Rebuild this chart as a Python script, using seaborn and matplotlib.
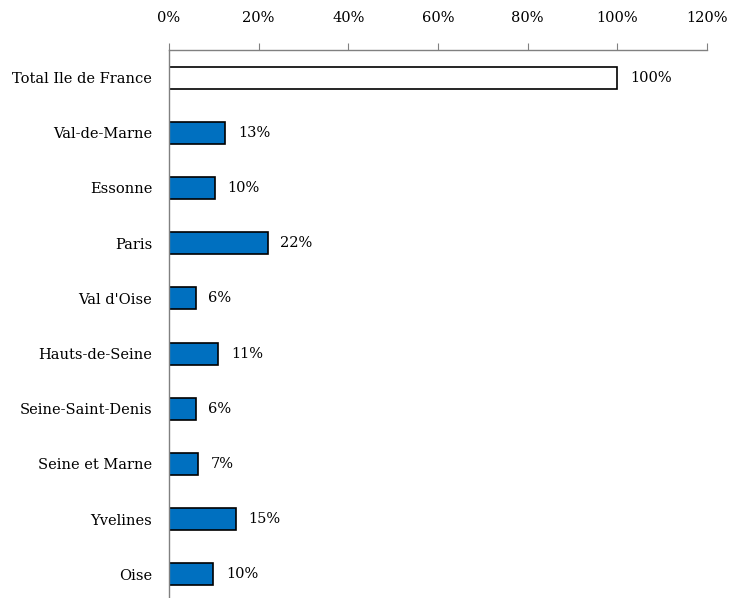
import numpy as np
import pandas as pd
import matplotlib
matplotlib.use("Agg")
import matplotlib.pyplot as plt
import seaborn as sns
from matplotlib.ticker import PercentFormatter, FixedLocator

# Data (share of each département)
regions = ["Total Ile de France", "Val-de-Marne", "Essonne", "Paris", "Val d'Oise",
           "Hauts-de-Seine", "Seine-Saint-Denis", "Seine et Marne", "Yvelines", "Oise"]
shares = [100, 12.6, 10.3, 22.0, 6.0, 11.0, 6.0, 6.5, 15.0, 9.9]
share_labels = ["100%", "13%", "10%", "22%", "6%", "11%", "6%", "7%", "15%", "10%"]
x_ticks = [0, 20, 40, 60, 80, 100, 120]

df = pd.DataFrame({"region": regions, "share": shares})

sns.set_style("white")
plt.rcParams["font.family"] = ["DejaVu Serif"]
plt.rcParams["font.size"] = 10.5
plt.rcParams["text.color"] = "black"
plt.rcParams["xtick.labelcolor"] = "black"
plt.rcParams["ytick.labelcolor"] = "black"

fig = plt.figure(figsize=(7.3, 5.98), dpi=100)
ax = fig.add_axes([169 / 730, 1 - 602 / 598, (707 - 169) / 730, (602 - 50) / 598])

colors = ["white"] + ["#0070C0"] * (len(regions) - 1)
sns.barplot(data=df, x="share", y="region", hue="region", palette=colors,
            saturation=1, legend=False, width=0.4, edgecolor="black",
            linewidth=1.2, ax=ax)

for cont, lab in zip(ax.containers, share_labels):
    ax.bar_label(cont, labels=[lab], padding=9, fontsize=10.5, color="black")

ax.set_xlim(0, 120)
ax.set_ylim(len(regions) - 0.5, -0.5)
ax.xaxis.tick_top()
ax.set_xticks(x_ticks)
ax.xaxis.set_major_formatter(PercentFormatter(decimals=0))
ax.tick_params(axis="x", direction="out", length=5, color="#808080", pad=13,
               labelcolor="black")

# category labels without ticks, tick marks between categories
ax.tick_params(axis="y", which="major", length=0, pad=12, labelcolor="black")
ax.yaxis.set_minor_locator(FixedLocator(np.arange(-0.5, len(regions), 1.0)))
ax.tick_params(axis="y", which="minor", length=5, color="#808080", direction="out")
ax.set_xlabel("")
ax.set_ylabel("")

for side in ["right", "bottom"]:
    ax.spines[side].set_visible(False)
for side in ["top", "left"]:
    ax.spines[side].set_color("#808080")
    ax.spines[side].set_linewidth(1)

fig.savefig("out.png", dpi=100)
